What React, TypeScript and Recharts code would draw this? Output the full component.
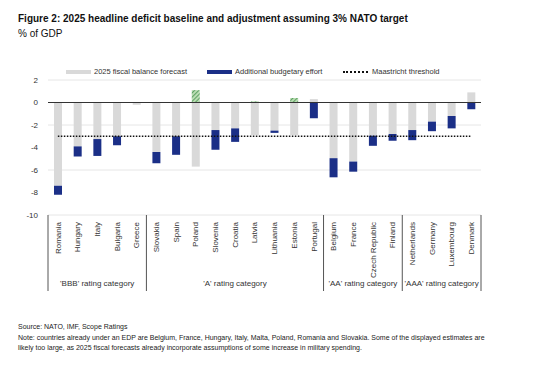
import { ComposedChart, Bar, Line, XAxis, YAxis, CartesianGrid, ReferenceLine } from 'recharts';

const countries = ['Romania', 'Hungary', 'Italy', 'Bulgaria', 'Greece', 'Slovakia', 'Spain', 'Poland', 'Slovenia', 'Croatia', 'Latvia', 'Lithuania', 'Estonia', 'Portugal', 'Belgium', 'France', 'Czech Republic', 'Finland', 'Netherlands', 'Germany', 'Luxembourg', 'Denmark'];
const forecast = [-7.4, -3.9, -3.25, -3.0, -0.2, -4.4, -3.0, -5.7, -2.45, -2.3, -2.9, -2.5, -2.9, 0.3, -4.95, -5.25, -2.95, -2.8, -2.45, -1.7, -1.2, 0.9];
const effort = [-0.8, -0.9, -1.5, -0.8, 0, -1.0, -1.65, 0, -1.75, -1.2, 0, -0.2, 0, -1.4, -1.7, -0.9, -0.9, -0.6, -0.9, -0.85, -1.1, -0.6];
const surplus = [0, 0, 0, 0, 0, 0, 0, 1.1, 0, 0, 0.1, 0, 0.4, 0, 0, 0, 0, 0, 0, 0, 0, 0];
const threshold = countries.map(() => -3);
const groupLabels = ["'BBB' rating category", "'A' rating category", "'AA' rating category", "'AAA' rating category"];
const groupSizes = [5, 9, 4, 4];
const yTicks = [2, 0, -2, -4, -6, -8, -10];

const FONT = '"Liberation Sans", Arial, sans-serif';
const PLOT_LEFT = 48;
const PLOT_RIGHT = 481;
const PLOT_BOTTOM = 215;
const GRAY = '#d9d9d9';
const BLUE = '#1b2f87';

const data = countries.map((c, i) => ({
  country: c,
  forecast: forecast[i],
  effort: effort[i],
  surplus: surplus[i],
  threshold: threshold[i],
}));

// index of first country in each group
const groupStarts: number[] = [];
groupSizes.reduce((acc, n) => {
  groupStarts.push(acc);
  return acc + n;
}, 0);

const CountryTick = (props: any) => {
  const { x, index, payload } = props;
  const bw = (PLOT_RIGHT - PLOT_LEFT) / countries.length;
  const g = groupStarts.indexOf(index);
  return (
    <g>
      <text
        x={0}
        y={0}
        dy="0.35em"
        transform={`translate(${x},${PLOT_BOTTOM + 7}) rotate(-90)`}
        textAnchor="end"
        fontSize={8}
        fill="#333"
        fontFamily={FONT}
      >
        {payload.value}
      </text>
      {g >= 0 && (
        <>
          <line x1={x - bw / 2} x2={x - bw / 2} y1={PLOT_BOTTOM} y2={291} stroke="#555" />
          <text
            x={x - bw / 2 + (groupSizes[g] * bw) / 2}
            y={286}
            textAnchor="middle"
            fontSize={8}
            fill="#333"
            fontFamily={FONT}
          >
            {groupLabels[g]}
          </text>
        </>
      )}
      {index === countries.length - 1 && (
        <line x1={x + bw / 2} x2={x + bw / 2} y1={PLOT_BOTTOM} y2={291} stroke="#555" />
      )}
    </g>
  );
};

export default function App() {
  return (
    <div style={{ position: 'absolute', left: 0, top: 0, width: 536, height: 371, background: '#fff', fontFamily: FONT, color: '#111' }}>
      <div style={{ position: 'absolute', left: 18, top: 13, fontSize: 10, fontWeight: 'bold', whiteSpace: 'nowrap' }}>
        Figure 2: 2025 headline deficit baseline and adjustment assuming 3% NATO target
      </div>
      <div style={{ position: 'absolute', left: 18, top: 28, fontSize: 10, whiteSpace: 'nowrap' }}>% of GDP</div>

      {/* legend */}
      <div style={{ position: 'absolute', left: 66, top: 70, width: 25, height: 4, background: GRAY }} />
      <div style={{ position: 'absolute', left: 94, top: 67, fontSize: 7.5, whiteSpace: 'nowrap', color: '#333' }}>2025 fiscal balance forecast</div>
      <div style={{ position: 'absolute', left: 207, top: 70, width: 25, height: 4, background: BLUE }} />
      <div style={{ position: 'absolute', left: 235, top: 67, fontSize: 7.5, whiteSpace: 'nowrap', color: '#333' }}>Additional budgetary effort</div>
      <div style={{ position: 'absolute', left: 343, top: 71, width: 25, height: 0, borderTop: '2px dotted #111' }} />
      <div style={{ position: 'absolute', left: 372, top: 67, fontSize: 7.5, whiteSpace: 'nowrap', color: '#333' }}>Maastricht threshold</div>

      <div style={{ position: 'absolute', left: 0, top: 0 }}>
        <ComposedChart
          width={536}
          height={300}
          data={data}
          stackOffset="sign"
          margin={{ top: 80, right: 536 - PLOT_RIGHT, left: PLOT_LEFT - 30, bottom: 5 }}
        >
          <defs>
            <pattern id="hatch" width="3" height="3" patternUnits="userSpaceOnUse" patternTransform="rotate(45)">
              <rect width="3" height="3" fill="#b9dcb2" />
              <line x1="0" y1="0" x2="0" y2="3" stroke="#3f8f4a" strokeWidth="1.5" />
            </pattern>
          </defs>
          <CartesianGrid vertical={false} stroke="#e6e6e6" />
          <XAxis
            dataKey="country"
            interval={0}
            height={80}
            tickLine={false}
            axisLine={false}
            tick={<CountryTick />}
          />
          <YAxis
            width={30}
            domain={[-10, 2]}
            ticks={yTicks}
            tickLine={false}
            axisLine={false}
            tickSize={0}
            tickMargin={10}
            tick={{ fontSize: 8, fill: '#333', fontFamily: FONT }}
          />
          <ReferenceLine y={0} stroke="#333" />
          <Bar dataKey="forecast" stackId="a" fill={GRAY} barSize={8} isAnimationActive={false} />
          <Bar dataKey="effort" stackId="a" fill={BLUE} barSize={8} isAnimationActive={false} />
          <Bar dataKey="surplus" stackId="a" fill="url(#hatch)" barSize={8} isAnimationActive={false} />
          <Line dataKey="threshold" stroke="#111" strokeWidth={1.5} strokeDasharray="1.5 1.5" dot={false} activeDot={false} isAnimationActive={false} />
        </ComposedChart>
      </div>

      <div style={{ position: 'absolute', left: 18, top: 322, fontSize: 7, lineHeight: '10.5px', color: '#222', width: 500 }}>
        <div>Source: NATO, IMF, Scope Ratings</div>
        <div>Note: countries already under an EDP are Belgium, France, Hungary, Italy, Malta, Poland, Romania and Slovakia. Some of the displayed estimates are</div>
        <div>likely too large, as 2025 fiscal forecasts already incorporate assumptions of some increase in military spending.</div>
      </div>
    </div>
  );
}
